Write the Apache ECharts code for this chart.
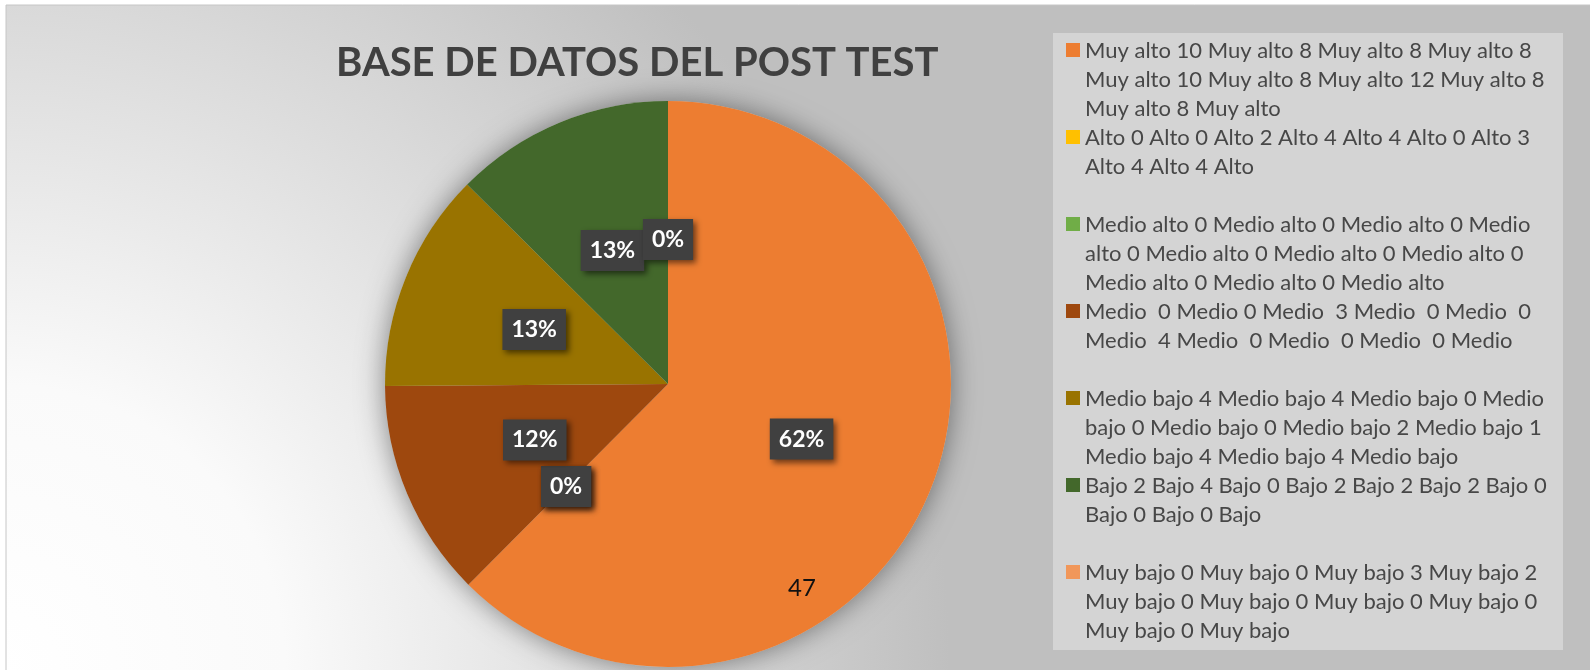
<!DOCTYPE html>
<html>
<head>
<meta charset="utf-8">
<script src="https://cdn.jsdelivr.net/npm/echarts@6/dist/echarts.min.js"></script>
<style>
  html, body { margin: 0; padding: 0; background: #fff; }
  #chart { width: 1590px; height: 670px; }
</style>
</head>
<body>
<div id="chart"></div>
<script>
// categorias tal como salen en la leyenda (con sus saltos de linea)
var categories = [
  'Muy alto 10 Muy alto 8 Muy alto 8 Muy alto 8\nMuy alto 10 Muy alto 8 Muy alto 12 Muy alto 8\nMuy alto 8 Muy alto',
  'Alto 0 Alto 0 Alto 2 Alto 4 Alto 4 Alto 0 Alto 3\nAlto 4 Alto 4 Alto\n ',
  'Medio alto 0 Medio alto 0 Medio alto 0 Medio\nalto 0 Medio alto 0 Medio alto 0 Medio alto 0\nMedio alto 0 Medio alto 0 Medio alto',
  'Medio  0 Medio 0 Medio  3 Medio  0 Medio  0\nMedio  4 Medio  0 Medio  0 Medio  0 Medio\n ',
  'Medio bajo 4 Medio bajo 4 Medio bajo 0 Medio\nbajo 0 Medio bajo 0 Medio bajo 2 Medio bajo 1\nMedio bajo 4 Medio bajo 4 Medio bajo',
  'Bajo 2 Bajo 4 Bajo 0 Bajo 2 Bajo 2 Bajo 2 Bajo 0\nBajo 0 Bajo 0 Bajo\n ',
  'Muy bajo 0 Muy bajo 0 Muy bajo 3 Muy bajo 2\nMuy bajo 0 Muy bajo 0 Muy bajo 0 Muy bajo 0\nMuy bajo 0 Muy bajo'
];
var values = [47, 0, 0, 9.35, 9.45, 9.45, 0];
var colors = ['#ED7D31', '#FFC000', '#70AD47', '#9E480E', '#997300', '#43682B', '#F1975A'];
var chartTitle = 'BASE DE DATOS DEL POST TEST';

var chart = echarts.init(document.getElementById('chart'));

// icono: cuadrado arriba, puntos invisibles para ocupar 3 lineas
var legendIcon = 'path://M0,0L0,0M0,7h14v14h-14zM0,87L0,87';

var option = {
  animation: false,
  color: colors,
  title: {
    text: chartTitle,
    left: 331,
    top: 38,
    textStyle: { fontFamily: 'Lato', fontWeight: 'bold', fontSize: 40, color: '#404040' }
  },
  graphic: [
    {
      type: 'rect', z: -10,
      shape: { x: 6, y: 5, width: 1600, height: 680 },
      style: {
        fill: {
          type: 'radial', x: 0, y: 670, r: 950, global: true,
          colorStops: [
            { offset: 0, color: '#ffffff' },
            { offset: 0.3, color: '#fafafa' },
            { offset: 0.7, color: '#d9d9d9' },
            { offset: 1, color: '#bfbfbf' }
          ]
        },
        stroke: '#c6c6c6', lineWidth: 1
      }
    },
    {
      type: 'rect', z: -5,
      shape: { x: 1053, y: 33, width: 510, height: 617 },
      style: { fill: '#d4d4d4' }
    },
    {
      type: 'text', z: 100, left: 788, top: 576,
      style: { text: String(values[0]), fontFamily: 'Lato', fontSize: 24, fill: '#111' }
    }
  ],
  legend: {
    orient: 'vertical',
    left: 1066,
    top: 36,
    padding: 0,
    itemGap: 0,
    itemWidth: 14,
    itemHeight: 87,
    selectedMode: false,
    icon: legendIcon,
    itemStyle: { borderWidth: 0 },
    textStyle: { fontFamily: 'Lato', fontSize: 22, lineHeight: 29, color: '#474747' },
    data: categories
  },
  series: [
    {
      // sombra del pastel
      type: 'pie', z: 1, silent: true,
      center: [668, 384], radius: 283,
      label: { show: false }, labelLine: { show: false },
      itemStyle: { color: '#cccccc', shadowBlur: 28, shadowColor: 'rgba(0,0,0,0.45)' },
      data: [{ name: 'sombra', value: 1 }]
    },
    {
      type: 'pie', z: 2,
      center: [668, 384], radius: 283,
      startAngle: 90,
      percentPrecision: 0,
      avoidLabelOverlap: false,
      labelLayout: { hideOverlap: false },
      itemStyle: { borderWidth: 0 },
      emphasis: { disabled: true },
      labelLine: { show: false },
      label: {
        show: true,
        position: 'inside',
        formatter: '{d}%',
        fontFamily: 'Lato', fontWeight: 'bold', fontSize: 23, lineHeight: 25,
        color: '#ffffff',
        backgroundColor: '#404040',
        padding: [9, 9, 7, 9],
        shadowBlur: 6, shadowOffsetX: 3, shadowOffsetY: 3, shadowColor: 'rgba(0,0,0,0.55)'
      },
      data: categories.map(function (c, i) { return { name: c, value: values[i] }; })
    }
  ]
};
chart.setOption(option);
</script>
</body>
</html>
